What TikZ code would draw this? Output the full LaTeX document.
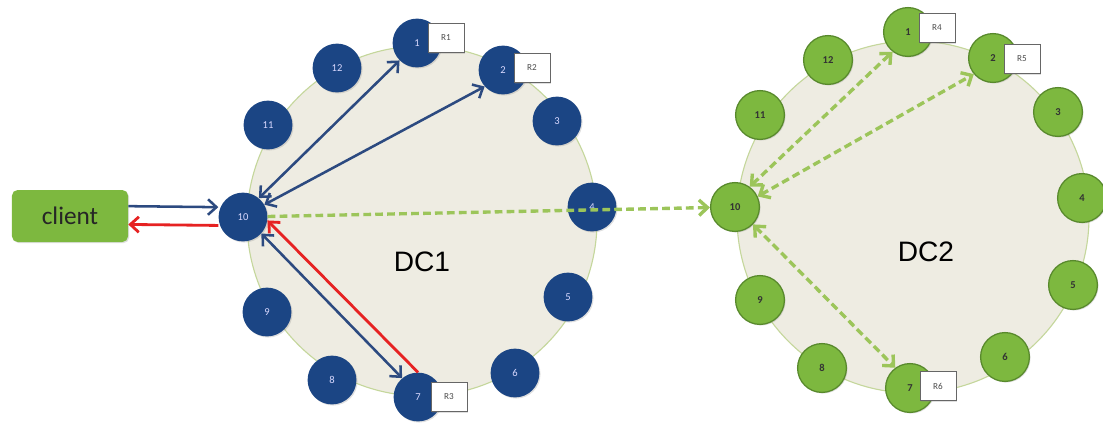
\documentclass[tikz,border=0pt]{standalone}
\usepackage{fontspec}
\setmainfont{Carlito}
\newfontfamily\dcfont{Liberation Sans}
\usetikzlibrary{arrows.meta,shadows}

\definecolor{dcblue}{HTML}{1B4584}
\definecolor{arrowblue}{HTML}{2C4A80}
\definecolor{dcgreen}{HTML}{7DB83F}
\definecolor{dcgreenline}{HTML}{58892C}
\definecolor{linkgreen}{HTML}{9CC55A}
\definecolor{ringfill}{HTML}{EEECE2}
\definecolor{ringline}{HTML}{C5D79C}
\definecolor{reqred}{HTML}{E62222}

\tikzset{
    ring/.style = {fill=ringfill, draw=ringline, line width=0.8pt},
    softshadow/.style = {drop shadow={opacity=0.25, shadow xshift=0.8pt, shadow yshift=-0.8pt}},
    bluenode/.style = {circle, fill=dcblue, minimum size=1.22cm, inner sep=0pt,
        text=white!85!blue, font=\fontsize{7.5}{8}\selectfont, softshadow},
    greennode/.style = {circle, fill=dcgreen, draw=dcgreenline, line width=0.9pt,
        minimum size=1.22cm, inner sep=0pt, text=black!80, font=\fontsize{7.5}{8}\selectfont\bfseries, softshadow},
    replica/.style = {draw=black!60, fill=white, minimum width=0.9cm, minimum height=0.72cm,
        inner sep=0pt, text=black!70, font=\fontsize{6.5}{7}\selectfont, softshadow},
    clientbox/.style = {rounded corners=4pt, fill=dcgreen, minimum width=2.9cm, minimum height=1.3cm,
        text=black!85, font=\fontsize{18}{20}\selectfont, softshadow},
    tip/.tip = {Straight Barb[length=6pt, width=11pt]},
    bluelink/.style = {arrowblue, line width=1.8pt},
    redlink/.style = {reqred, line width=2pt},
    greenlink/.style = {linkgreen, line width=2.4pt, dash pattern=on 5.5pt off 3pt}
}

\begin{document}
\begin{tikzpicture}[x=0.025cm, y=-0.025cm]
    \useasboundingbox (0,0) rectangle (1103,423);

    % the two rings
    \draw[ring] (422,221) circle (175);
    \draw[ring] (913,217) circle (176);
    \node[font=\dcfont\fontsize{20}{24}\selectfont] (dcone) at (422,262) {DC1};
    \node[font=\dcfont\fontsize{20}{24}\selectfont] (dctwo) at (926,252) {DC2};

    % nodes of DC1
    \foreach \n/\x/\y in {1/417/43, 2/503/70, 3/557/121, 4/592/207, 5/568/297, 6/515/373,
                          7/418/397, 8/332/380, 9/267/312, 10/243/217, 11/268/125, 12/337/68}
        \node[bluenode] (d1n\n) at (\x,\y) {\n};

    % nodes of DC2
    \foreach \n/\x/\y in {1/908/32, 2/993/58, 3/1058/112, 4/1082/198, 5/1073/285, 6/1005/357,
                          7/910/388, 8/822/368, 9/760/300, 10/735/207, 11/760/115, 12/828/60}
        \node[greennode] (d2n\n) at (\x,\y) {\n};

    % replicas
    \node[replica] (r1) at (446,38) {R1};
    \node[replica] (r2) at (532,68) {R2};
    \node[replica] (r3) at (449,397) {R3};
    \node[replica] (r4) at (937,28) {R4};
    \node[replica] (r5) at (1022,59) {R5};
    \node[replica] (r6) at (938,386) {R6};

    \node[clientbox] (client) at (70,216) {client};

    % client requests
    \draw[bluelink, -tip] ([yshift=7pt]client.east) -- ([yshift=7pt]d1n10.west);
    \draw[redlink, -tip] ([yshift=-6pt]d1n10.west) -- ([yshift=-6pt]client.east);

    % coordinator to local replicas
    \draw[bluelink, tip-tip] (d1n10.50) -- (d1n1.225);
    \draw[bluelink, tip-tip] (d1n10.30) -- (d1n2.222);
    \draw[bluelink, tip-tip] (d1n10.-42) -- (d1n7.130);
    \draw[redlink, -tip] (d1n7.north) -- (d1n10.-8);

    % remote data center
    \draw[greenlink, -tip] (d1n10) -- (d2n10);
    \draw[greenlink, tip-tip] (d2n10.54) -- (d2n1.232);
    \draw[greenlink, tip-tip] (d2n10.25) -- (d2n2.220);
    \draw[greenlink, tip-tip] (d2n10.-44) -- (d2n7.126);
\end{tikzpicture}
\end{document}
